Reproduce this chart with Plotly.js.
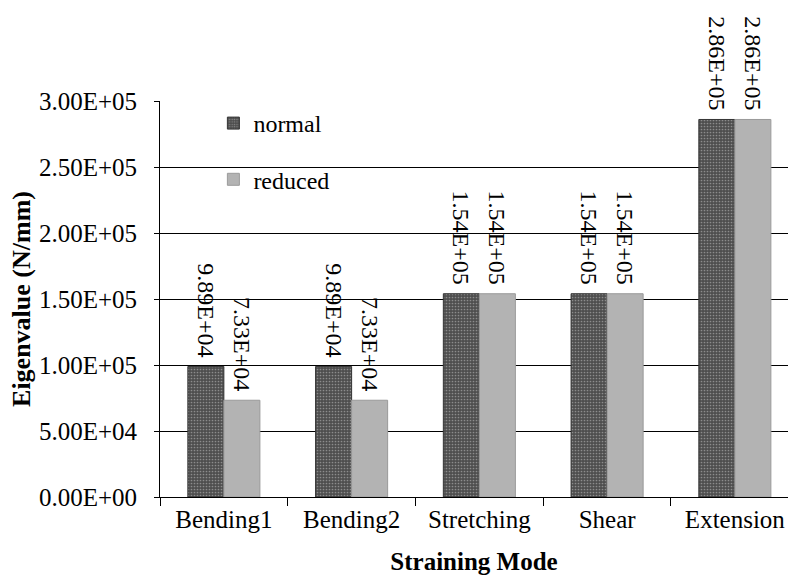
<!DOCTYPE html>
<html>
<head>
<meta charset="utf-8">
<script src="https://cdn.plot.ly/plotly-3.0.1.min.js"></script>
<style>html,body{margin:0;padding:0;background:#fff;}#chart{width:788px;height:575px;}</style>
</head>
<body>
<div id="chart"></div>
<script>
const categories = ["Bending1", "Bending2", "Stretching", "Shear", "Extension"];
const normalValues = [98900, 98900, 154000, 154000, 286000];
const reducedValues = [73300, 73300, 154000, 154000, 286000];
const yTickValues = [0, 50000, 100000, 150000, 200000, 250000, 300000];

function fmtE(v) {
  const s = v.toExponential(2).toUpperCase();
  const m = s.match(/^(-?[\d.]+)E([+-])(\d+)$/);
  return m[1] + "E" + m[2] + (m[3].length < 2 ? "0" + m[3] : m[3]);
}

const FONT = "Liberation Serif";

const traces = [
  {
    type: "bar", name: "normal", x: categories, y: normalValues,
    text: normalValues.map(v => fmtE(v) + "\u00a0"), textposition: "outside", textangle: 90,
    textfont: {family: FONT, size: 24, color: "#000"},
    cliponaxis: false, constraintext: "none", legendgroup: "a",
    marker: {color: "#555", line: {color: "#333", width: 1},
      pattern: {shape: ".", fgcolor: "#8c8c8c", bgcolor: "#4e4e4e", size: 3, solidity: 0.25}}
  },
  {
    type: "bar", name: "reduced", x: categories, y: reducedValues,
    text: reducedValues.map(v => fmtE(v) + "\u00a0"), textposition: "outside", textangle: 90,
    textfont: {family: FONT, size: 24, color: "#000"},
    cliponaxis: false, constraintext: "none", legendgroup: "b",
    marker: {color: "#b3b3b3", line: {color: "#9a9a9a", width: 1}}
  }
];

const layout = {
  width: 788, height: 575,
  margin: {l: 160, r: 0, t: 101, b: 78},
  paper_bgcolor: "#fff", plot_bgcolor: "#fff",
  font: {family: FONT, size: 24, color: "#000"},
  barmode: "group", bargap: 0.436, bargroupgap: 0,
  showlegend: true,
  legend: {x: 0.085, y: 1.0, xanchor: "left", yanchor: "top", bgcolor: "rgba(0,0,0,0)",
    font: {family: FONT, size: 24, color: "#000"}, tracegroupgap: 22, traceorder: "grouped",
    itemwidth: 30},
  xaxis: {
    type: "category", range: [-0.5, 4.416], tickson: "boundaries",
    ticks: "outside", ticklen: 8, tickcolor: "#000", tickwidth: 1,
    showline: true, linecolor: "#000", linewidth: 1, showgrid: false, zeroline: false,
    tickfont: {family: FONT, size: 25, color: "#000"},
    title: {text: "<b>Straining Mode</b>", font: {family: FONT, size: 25, color: "#000"}, standoff: 22}
  },
  yaxis: {
    range: [0, 300000], tickvals: yTickValues, ticktext: yTickValues.map(fmtE),
    ticks: "outside", ticklen: 5, tickcolor: "#000", ticklabelstandoff: 12,
    showline: true, linecolor: "#000", linewidth: 1,
    showgrid: true, gridcolor: "#000", gridwidth: 1, zeroline: false,
    tickfont: {family: FONT, size: 25, color: "#000"},
    title: {text: "<b>Eigenvalue (N/mm)</b>", font: {family: FONT, size: 26, color: "#000"}, standoff: 0}
  }
};

Plotly.newPlot("chart", traces, layout, {displayModeBar: false, staticPlot: true});
</script>
</body>
</html>
